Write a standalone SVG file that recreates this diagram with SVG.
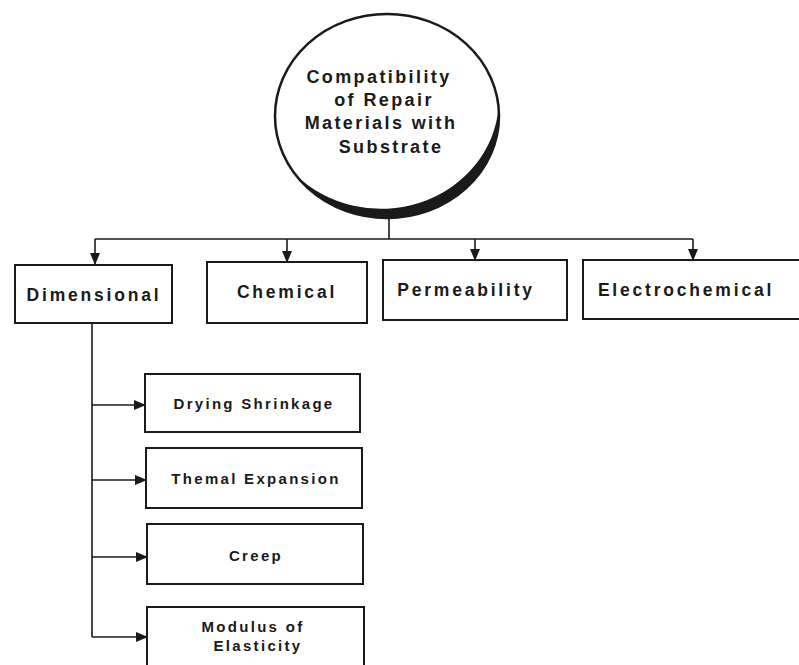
<svg xmlns="http://www.w3.org/2000/svg" width="799" height="665" viewBox="0 0 799 665">
<style>
.box{fill:#fff;stroke:#1a1a1a;stroke-width:2}
.t{font-family:"Liberation Sans",Arial,sans-serif;font-weight:bold;fill:#1a1a1a;text-anchor:middle}
.big{font-size:17.5px;letter-spacing:2.8px}
.sm{font-size:15px;letter-spacing:2.3px}
.ct{font-size:18px;letter-spacing:2.4px}
.ln{fill:none;stroke:#1a1a1a;stroke-width:1.6}
</style>
<defs>
<marker id="ah" markerWidth="12" markerHeight="12" refX="11" refY="6" orient="auto" markerUnits="userSpaceOnUse">
<path d="M0,1 L12,6 L0,11 Z" fill="#1a1a1a"/>
</marker>
</defs>
<rect width="799" height="665" fill="#fff"/>
<g id="connectors">
<line class="ln" x1="389" y1="219" x2="389" y2="239"/>
<polyline class="ln" points="95,239 693,239"/>
<line class="ln" x1="95" y1="239" x2="95" y2="264" marker-end="url(#ah)"/>
<line class="ln" x1="287" y1="239" x2="287" y2="262" marker-end="url(#ah)"/>
<line class="ln" x1="475" y1="239" x2="475" y2="260" marker-end="url(#ah)"/>
<line class="ln" x1="693" y1="239" x2="693" y2="260" marker-end="url(#ah)"/>
<line class="ln" x1="92" y1="323" x2="92" y2="637"/>
<line class="ln" x1="92" y1="405" x2="145" y2="405" marker-end="url(#ah)"/>
<line class="ln" x1="92" y1="480" x2="146" y2="480" marker-end="url(#ah)"/>
<line class="ln" x1="92" y1="557" x2="147" y2="557" marker-end="url(#ah)"/>
<line class="ln" x1="92" y1="637" x2="147" y2="637" marker-end="url(#ah)"/>
</g>
<g id="root">
<ellipse cx="387" cy="116" rx="112" ry="102" fill="#fff" stroke="#1a1a1a" stroke-width="2.5"/>
<path d="M295.3,174.5 A112,102 0 0 0 498.6,107.1 A118,110 0 0 1 295.3,174.5 Z" fill="#1a1a1a"/>
<text class="t ct" x="379" y="83">Compatibility</text>
<text class="t ct" x="384" y="106">of Repair</text>
<text class="t ct" x="381" y="129">Materials with</text>
<text class="t ct" x="391" y="153">Substrate</text>
</g>
<g id="dimensional">
<rect class="box" x="15" y="265" width="157" height="58"/>
<text class="t big" x="94" y="301">Dimensional</text>
</g>
<g id="chemical">
<rect class="box" x="207" y="262" width="160" height="61"/>
<text class="t big" x="287" y="298">Chemical</text>
</g>
<g id="permeability">
<rect class="box" x="383" y="260" width="184" height="60"/>
<text class="t big" x="466" y="296">Permeability</text>
</g>
<g id="electrochemical">
<rect class="box" x="583" y="260" width="230" height="59"/>
<text class="t big" x="686" y="296">Electrochemical</text>
</g>
<g id="drying">
<rect class="box" x="145" y="374" width="215" height="58" stroke-width="3.5"/>
<text class="t sm" x="254" y="409">Drying  Shrinkage</text>
</g>
<g id="thermal">
<rect class="box" x="146" y="448" width="216" height="60"/>
<text class="t sm" x="256" y="484">Themal  Expansion</text>
</g>
<g id="creep">
<rect class="box" x="147" y="524" width="216" height="60"/>
<text class="t sm" x="256" y="561">Creep</text>
</g>
<g id="modulus">
<rect class="box" x="147" y="607" width="217" height="62"/>
<text class="t sm" x="253" y="632">Modulus of</text>
<text class="t sm" x="258" y="651">Elasticity</text>
</g>
</svg>
